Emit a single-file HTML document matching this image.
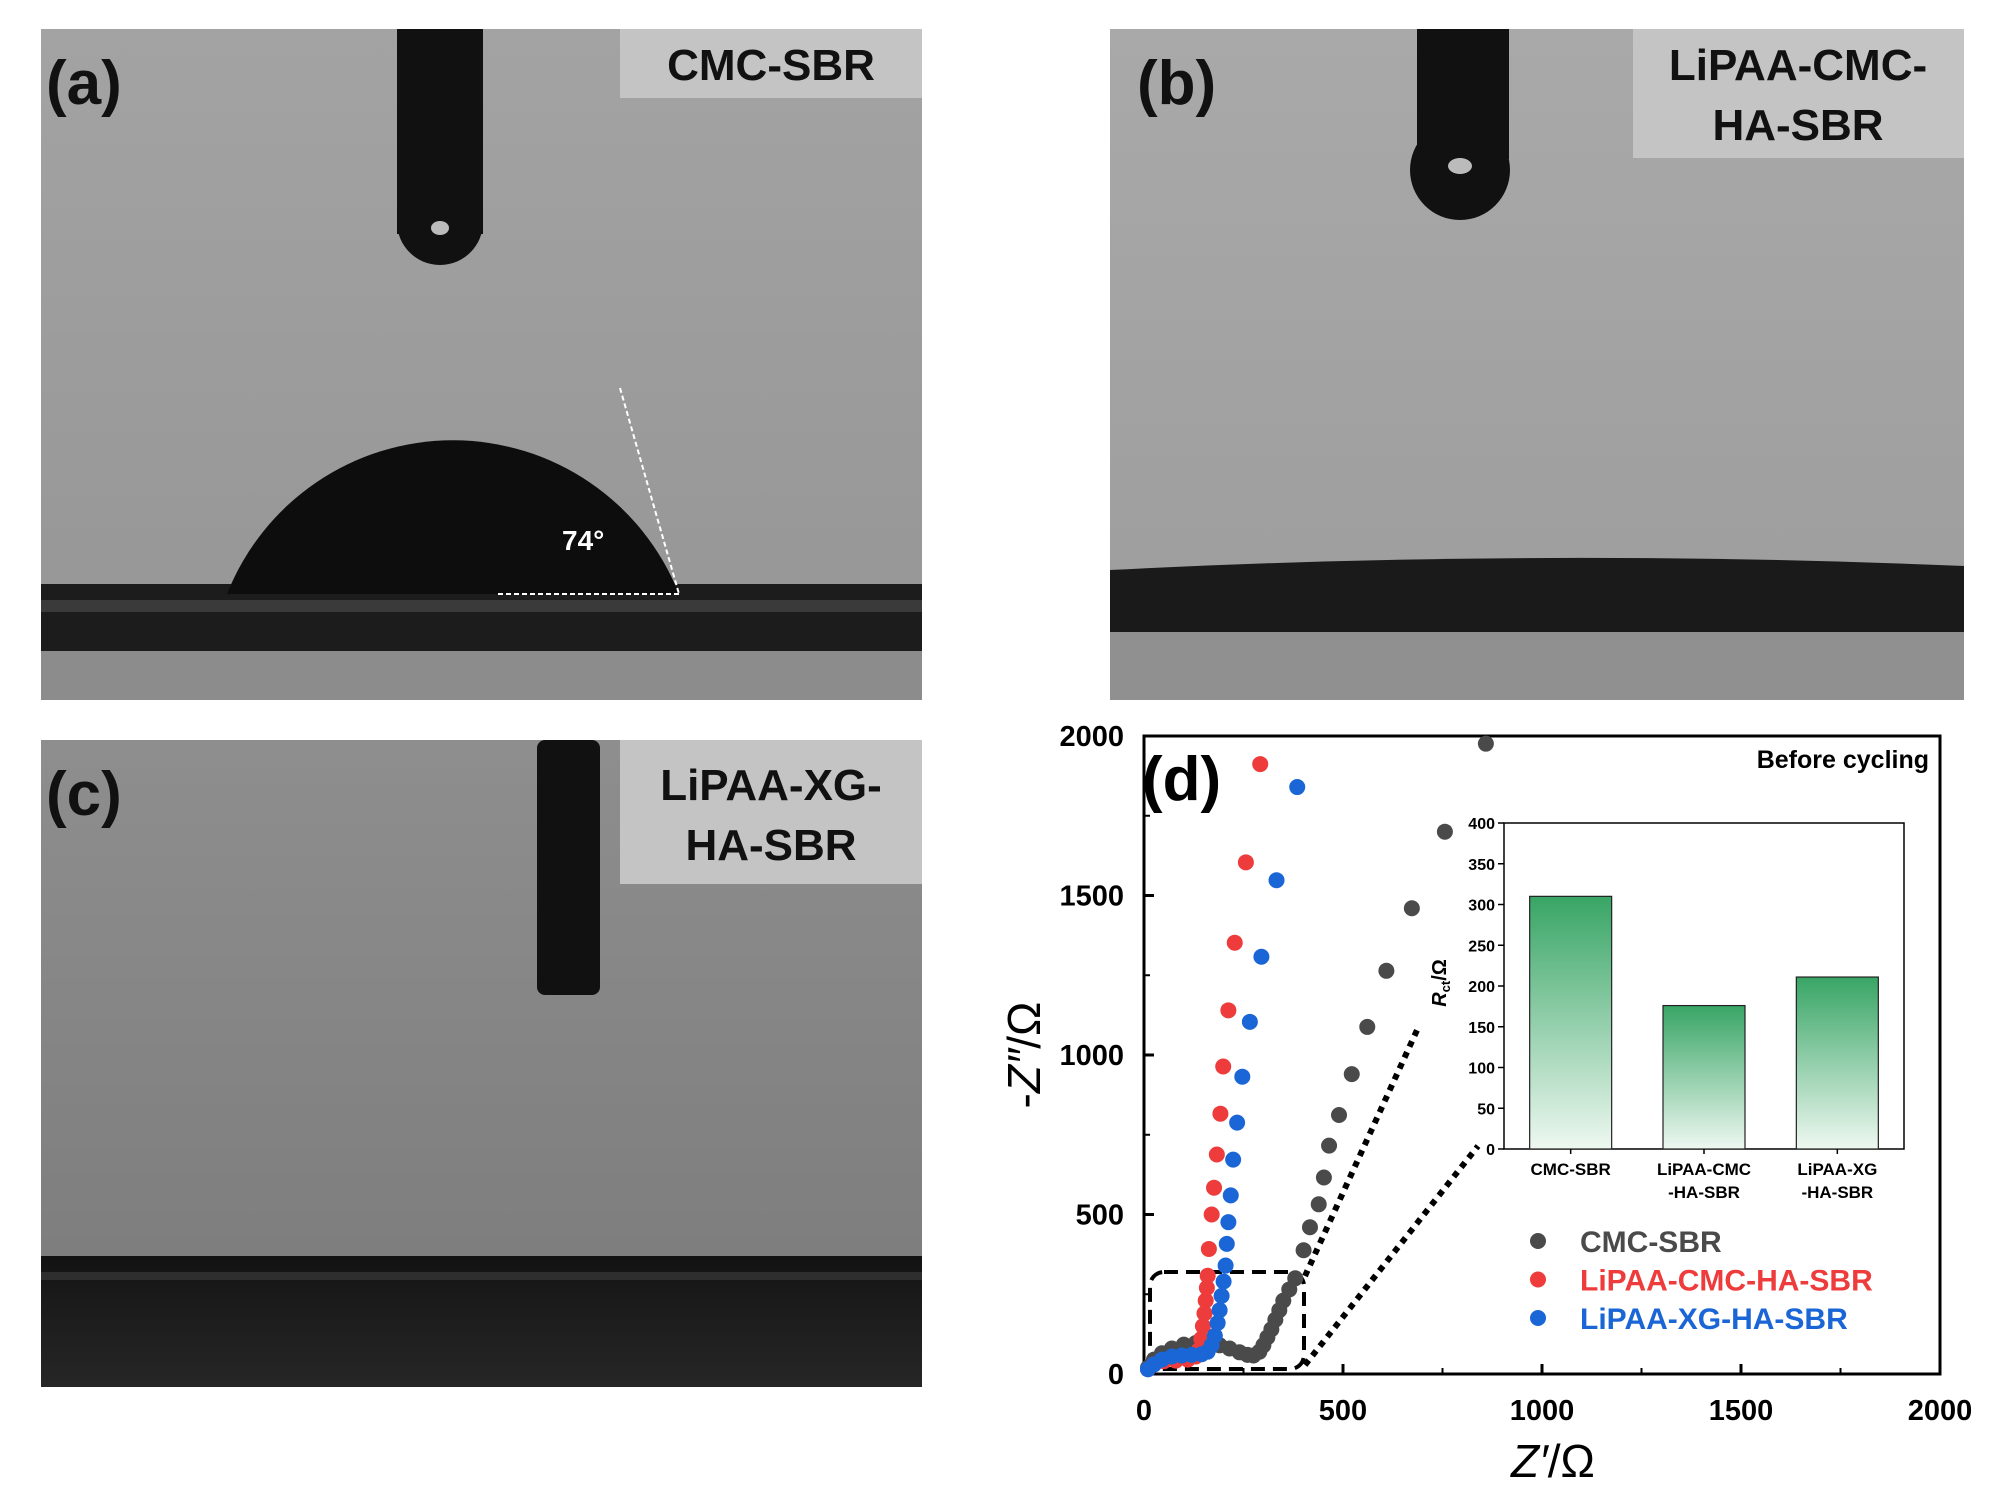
<!DOCTYPE html>
<html><head><meta charset="utf-8"><style>
html,body{margin:0;padding:0;background:#fff;}
svg{display:block;font-family:"Liberation Sans",Arial,sans-serif;}
</style></head><body>
<svg id="fig" width="2000" height="1493" viewBox="0 0 2000 1493" xmlns="http://www.w3.org/2000/svg">
<defs>
<linearGradient id="ga" x1="0" y1="0" x2="0" y2="1"><stop offset="0" stop-color="#a3a3a3"/><stop offset="1" stop-color="#959595"/></linearGradient>
<linearGradient id="gb" x1="0" y1="0" x2="0" y2="1"><stop offset="0" stop-color="#a9a9a9"/><stop offset="1" stop-color="#9c9c9c"/></linearGradient>
<linearGradient id="gc" x1="0" y1="0" x2="0" y2="1"><stop offset="0" stop-color="#8e8e8e"/><stop offset="1" stop-color="#7a7a7a"/></linearGradient>
<linearGradient id="gcb" x1="0" y1="0" x2="0" y2="1"><stop offset="0" stop-color="#121212"/><stop offset="0.3" stop-color="#1a1a1a"/><stop offset="1" stop-color="#262626"/></linearGradient>
<linearGradient id="bar" x1="0" y1="0" x2="0" y2="1"><stop offset="0" stop-color="#38a565"/><stop offset="1" stop-color="#eef8f1"/></linearGradient>
</defs>

<!-- Panel a -->
<g>
<rect x="41" y="29" width="881" height="671" fill="url(#ga)"/>
<rect x="41" y="584" width="881" height="67" fill="#1c1c1c"/>
<rect x="41" y="600" width="881" height="12" fill="#3a3a3a"/>
<rect x="41" y="651" width="881" height="49" fill="#8c8c8c"/>
<rect x="397" y="29" width="86" height="205" fill="#111"/>
<circle cx="440" cy="222" r="43" fill="#111"/>
<ellipse cx="440" cy="228" rx="9" ry="7" fill="#bbb"/>
<path d="M227 594 A 243 243 0 0 1 679 594 Z" fill="#0d0d0d"/>
<line x1="498" y1="594" x2="679" y2="594" stroke="#fff" stroke-width="2" stroke-dasharray="5,3"/>
<line x1="620" y1="388" x2="679" y2="594" stroke="#fff" stroke-width="2" stroke-dasharray="5,3"/>
<text x="562" y="550" fill="#fff" font-size="28" font-weight="bold">74°</text>
<rect x="620" y="29" width="302" height="69" fill="#c4c4c4"/>
<text x="771" y="80" text-anchor="middle" font-size="44" font-weight="bold" fill="#111">CMC-SBR</text>
<text x="46" y="104" font-size="62" font-weight="bold" fill="#111">(a)</text>
</g>

<!-- Panel b -->
<g>
<rect x="1110" y="29" width="854" height="671" fill="url(#gb)"/>
<path d="M1110 570 Q1540 548 1964 566 L1964 632 L1110 632 Z" fill="#1a1a1a"/>
<rect x="1110" y="632" width="854" height="68" fill="#909090"/>
<rect x="1417" y="29" width="92" height="130" fill="#111"/>
<circle cx="1460" cy="170" r="50" fill="#111"/>
<ellipse cx="1460" cy="166" rx="12" ry="8" fill="#bbb"/>
<rect x="1633" y="29" width="331" height="129" fill="#c4c4c4"/>
<text x="1798" y="80" text-anchor="middle" font-size="44" font-weight="bold" fill="#111">LiPAA-CMC-</text>
<text x="1798" y="140" text-anchor="middle" font-size="44" font-weight="bold" fill="#111">HA-SBR</text>
<text x="1137" y="104" font-size="62" font-weight="bold" fill="#111">(b)</text>
</g>

<!-- Panel c -->
<g>
<rect x="41" y="740" width="881" height="647" fill="url(#gc)"/>
<rect x="41" y="1256" width="881" height="131" fill="url(#gcb)"/>
<rect x="41" y="1272" width="881" height="8" fill="#2e2e2e"/>
<rect x="537" y="740" width="63" height="255" rx="8" fill="#111"/>
<rect x="620" y="740" width="302" height="144" fill="#c4c4c4"/>
<text x="771" y="800" text-anchor="middle" font-size="44" font-weight="bold" fill="#111">LiPAA-XG-</text>
<text x="771" y="860" text-anchor="middle" font-size="44" font-weight="bold" fill="#111">HA-SBR</text>
<text x="46" y="815" font-size="62" font-weight="bold" fill="#111">(c)</text>
</g>

<!-- Panel d chart -->
<g id="chart"></g>
</svg>
<script>
const xTicks=[0,500,1000,1500,2000];
const yTicks=[0,500,1000,1500,2000];
const cmcX=[10,25,45,70,100,130,160,190,215,240,260,275,290,300,310,320,330,340,350,365,380,401,417,439,452,465,490,522,561,609,673,756,859];
const cmcY=[20,45,65,80,92,97,97,90,80,68,60,58,70,90,115,140,170,200,230,265,300,388,460,532,616,716,812,940,1088,1264,1460,1700,1976];
const cmcHX=[10,25,50,80,110,130,138,144,148,152,155,158,160,163,170,176,183,192,199,212,228,256,292];
const cmcHY=[15,30,40,42,45,55,75,110,150,190,230,270,308,392,500,584,688,816,964,1140,1352,1604,1912];
const xgX=[10,25,45,70,95,120,145,160,170,178,185,190,195,200,205,208,212,218,224,234,247,266,295,333,385];
const xgY=[15,30,45,55,58,60,62,70,90,120,160,200,245,290,340,408,476,560,672,788,932,1104,1308,1548,1840];
const barCats=["CMC-SBR","LiPAA-CMC|-HA-SBR","LiPAA-XG|-HA-SBR"];
const barVals=[310,176,211];
const insetTicks=[0,50,100,150,200,250,300,350,400];

const NS="http://www.w3.org/2000/svg";
const g=document.getElementById('chart');
function mk(t,a,p){const e=document.createElementNS(NS,t);for(const k in a)e.setAttribute(k,a[k]);(p||g).appendChild(e);return e;}
const X0=1144,X1=1940,Y0=1374,Y1=736;
const sx=v=>X0+(v-0)/2000*(X1-X0);
const sy=v=>Y0-(v-0)/2000*(Y0-Y1);

let frame=mk('rect',{x:X0,y:Y1,width:X1-X0,height:Y0-Y1,fill:'#fff',stroke:'#000','stroke-width':3});



xTicks.forEach(v=>{
  mk('line',{x1:sx(v),x2:sx(v),y1:Y0,y2:Y0-10,stroke:'#000','stroke-width':3});
  const t=mk('text',{x:sx(v),y:1420,'text-anchor':'middle','font-size':29,'font-weight':'bold'});
  t.textContent=v;
  
  
});
xTicks.slice(0,-1).forEach(v=>{mk('line',{x1:sx(v+250),x2:sx(v+250),y1:Y0,y2:Y0-6,stroke:'#000','stroke-width':2});});
yTicks.forEach(v=>{
  mk('line',{x1:X0,x2:X0+10,y1:sy(v),y2:sy(v),stroke:'#000','stroke-width':3});
  const t=mk('text',{x:1124,y:sy(v)+10,'text-anchor':'end','font-size':29,'font-weight':'bold'});
  t.textContent=v;
  
  
});
yTicks.slice(0,-1).forEach(v=>{mk('line',{x1:X0,x2:X0+6,y1:sy(v+250),y2:sy(v+250),stroke:'#000','stroke-width':2});});

let xt=mk('text',{x:1553,y:1477,'text-anchor':'middle','font-size':46});
xt.innerHTML='<tspan font-style="italic">Z′</tspan>/Ω';


let yt=mk('text',{x:0,y:0,'text-anchor':'middle','font-size':46,transform:'translate(1040,1055) rotate(-90)'});
yt.innerHTML='-<tspan font-style="italic">Z″</tspan>/Ω';



let dl=mk('text',{x:1142,y:800,'font-size':62,'font-weight':'bold'});
dl.textContent='(d)';


let bc=mk('text',{x:1929,y:768,'text-anchor':'end','font-size':25,'font-weight':'bold'});
bc.textContent='Before cycling';



let zb=mk('rect',{x:1150,y:1272,width:154,height:97,rx:14,fill:'none',stroke:'#000','stroke-width':4,'stroke-dasharray':'14,8'});


mk('line',{x1:1305,y1:1276,x2:1418,y2:1028,stroke:'#000','stroke-width':6,'stroke-dasharray':'6,6'});
mk('line',{x1:1305,y1:1365,x2:1478,y2:1146,stroke:'#000','stroke-width':6,'stroke-dasharray':'6,6'});

function series(xs,ys,col,name){
  xs.forEach((v,i)=>{
    const c=mk('circle',{cx:sx(v),cy:sy(ys[i]),r:8,fill:col});
    
    
  });
}
series(cmcX,cmcY,'#4a4a4a','point-cmc-sbr');
series(cmcHX,cmcHY,'#ee3b3b','point-lipaa-cmc-ha-sbr');
series(xgX,xgY,'#1a66d6','point-lipaa-xg-ha-sbr');

[['CMC-SBR','#4a4a4a','#4a4a4a'],['LiPAA-CMC-HA-SBR','#ee3b3b','#ee3b3b'],['LiPAA-XG-HA-SBR','#1a66d6','#1a66d6']].forEach((l,i)=>{
  const y=1241+i*38.5;
  const c=mk('circle',{cx:1538,cy:y,r:8,fill:l[1]});
  
  
  const t=mk('text',{x:1580,y:y+11,'font-size':30,'font-weight':'bold',fill:l[2]});
  t.textContent=l[0];
  
  
});

const IX0=1504,IX1=1904,IY0=1149,IY1=823;
const iy=v=>IY0-v/400*(IY0-IY1);
let ir=mk('rect',{x:IX0,y:IY1,width:IX1-IX0,height:IY0-IY1,fill:'#fff',stroke:'#000','stroke-width':1.5});


insetTicks.forEach(v=>{
  mk('line',{x1:IX0-6,x2:IX0,y1:iy(v),y2:iy(v),stroke:'#000','stroke-width':1.5});
  const t=mk('text',{x:IX0-9,y:iy(v)+6,'text-anchor':'end','font-size':16,'font-weight':'bold'});
  t.textContent=v;
  
  
});
let iyt=mk('text',{x:0,y:0,'text-anchor':'middle','font-size':20,'font-weight':'bold',transform:'translate(1446,983) rotate(-90)'});
iyt.innerHTML='<tspan font-style="italic">R</tspan><tspan font-size="13" dy="4">ct</tspan><tspan dy="-4">/Ω</tspan>';


const bw=(IX1-IX0)/barCats.length;
barCats.forEach((c,i)=>{
  const cx=IX0+bw*(i+0.5);
  const b=mk('rect',{x:cx-41,y:iy(barVals[i]),width:82,height:IY0-iy(barVals[i]),fill:'url(#bar)',stroke:'#222','stroke-width':1.2});
  
  
  mk('line',{x1:cx,x2:cx,y1:IY0,y2:IY0+5,stroke:'#000','stroke-width':1.5});
  c.split('|').forEach((ln,j)=>{
    const t=mk('text',{x:cx,y:1175+j*23,'text-anchor':'middle','font-size':17,'font-weight':'bold'});
    t.textContent=ln;
    
    
  });
});
</script>
</body></html>
